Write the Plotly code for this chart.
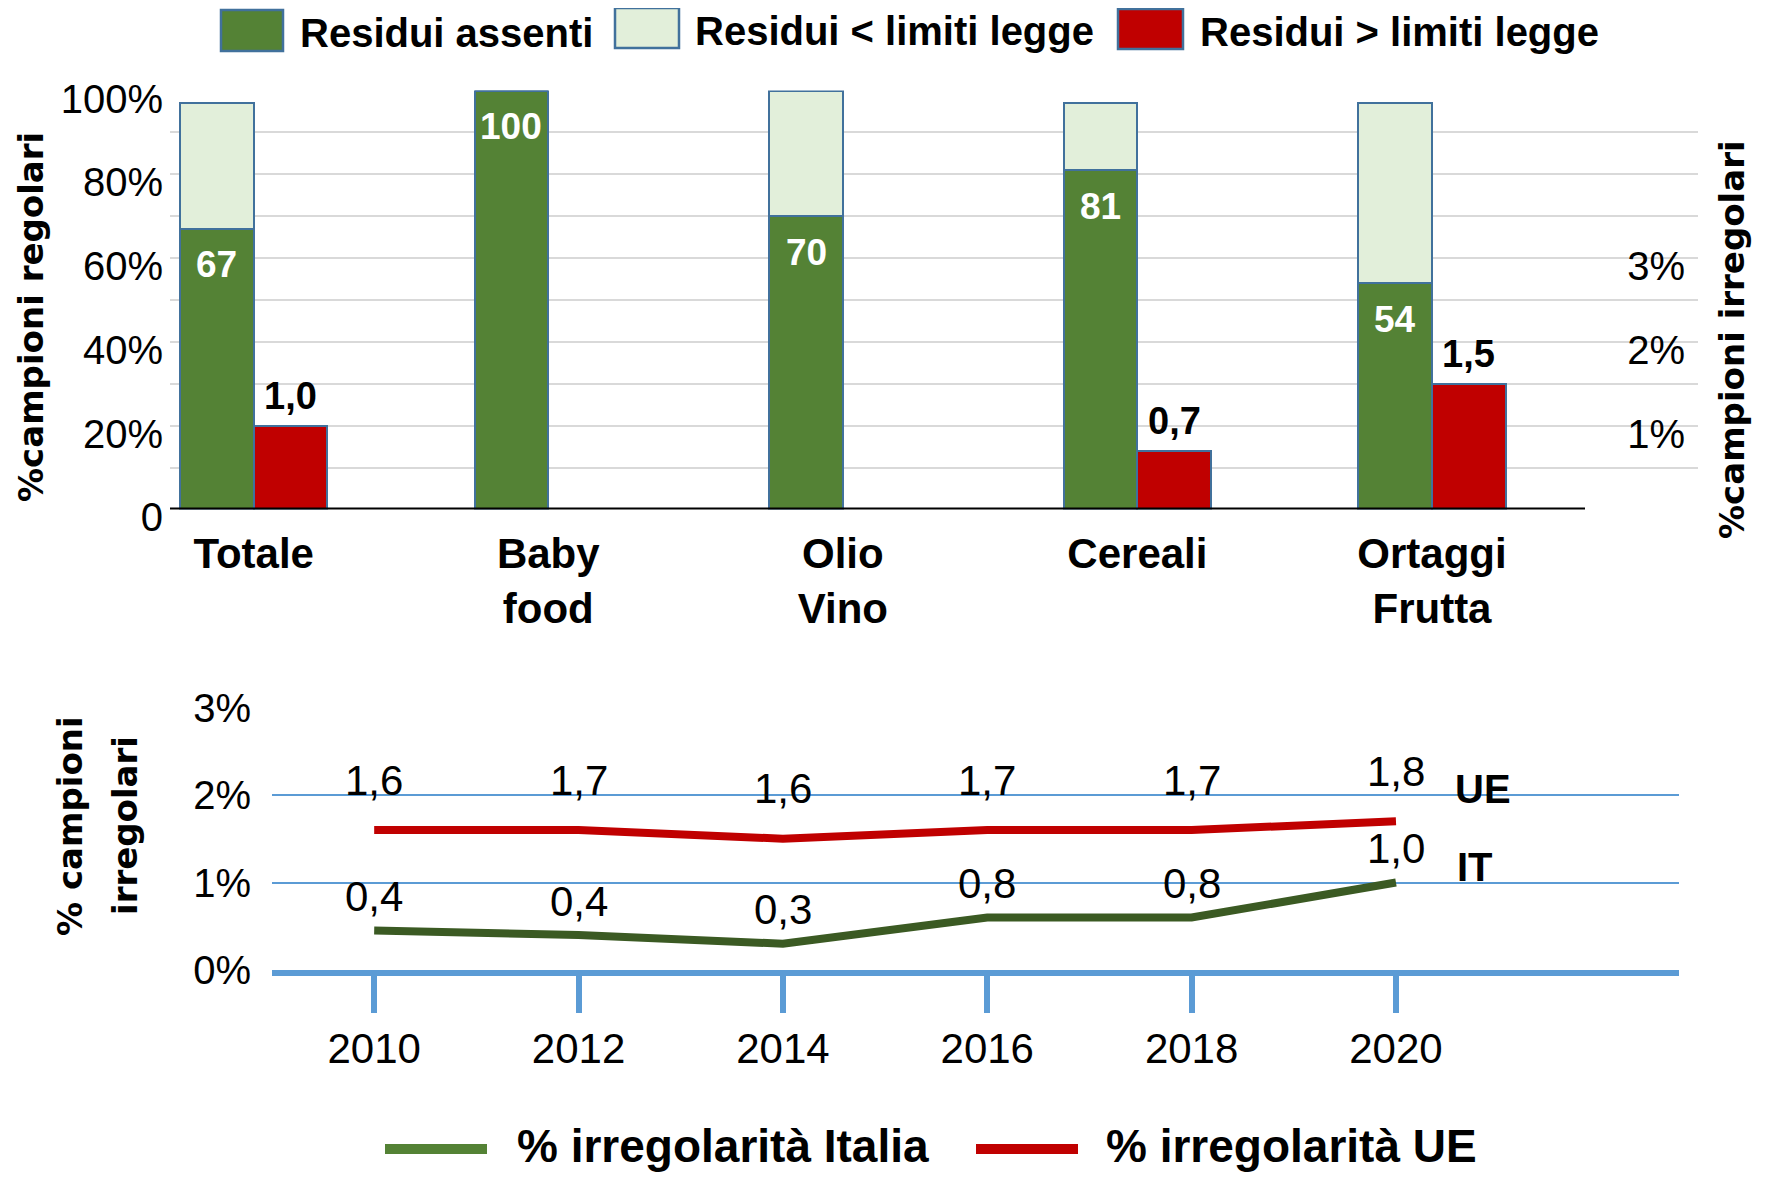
import plotly.graph_objects as go

# ---------------- data ----------------
categories = ["Totale", "Baby<br>food", "Olio<br>Vino", "Cereali", "Ortaggi<br>Frutta"]
residui_assenti = [67, 100, 70, 81, 54]          # % campioni regolari, nessun residuo
residui_sotto_limiti = [30, 0, 30, 16, 43]       # % campioni con residui < limiti
residui_sopra_limiti = [1.0, None, None, 0.7, 1.5]  # % campioni irregolari (asse destro)

years = [2010, 2012, 2014, 2016, 2018, 2020]
irr_italia = [0.45, 0.4, 0.3, 0.6, 0.6, 1.0]
irr_italia_labels = ["0,4", "0,4", "0,3", "0,8", "0,8", "1,0"]
irr_ue = [1.6, 1.6, 1.5, 1.6, 1.6, 1.7]
irr_ue_labels = ["1,6", "1,7", "1,6", "1,7", "1,7", "1,8"]

left_tickvals = [0, 20, 40, 60, 80, 100]
left_ticktext = ["0", "20%", "40%", "60%", "80%", "100%"]
right_tickvals = [0, 1, 2, 3]
right_ticktext = ["0", "1%", "2%", "3%"]
bottom_tickvals = [0, 1, 2, 3]
bottom_ticktext = ["0%", "1%", "2%", "3%"]

legend_top = ["Residui assenti", "Residui < limiti legge", "Residui > limiti legge"]
legend_bottom = ["% irregolarità Italia", "% irregolarità UE"]

# ---------------- style ----------------
PAGE_W, PAGE_H = 1775, 1177
OFF = 8                      # default body margin of the html page
W, H = PAGE_W - OFF, PAGE_H - OFF
GREEN = "#548235"
LIGHT = "#e2efda"
RED = "#c00000"
EDGE = "#41719c"
DKGREEN = "#3b5a23"
BLUE = "#5b9bd5"
FONT = "Liberation Sans, Arial, sans-serif"
TFONT = "DejaVu Sans, Verdana, sans-serif"

X_LEFT, X_RIGHT = 170, 1698
X_RANGE = [-0.284, 4.903]
BW = 0.25
unit_px = (X_RIGHT - X_LEFT) / (X_RANGE[1] - X_RANGE[0])
half_bar_px = BW / 2 * unit_px


def px(xp):
    return (xp - OFF) / W


def py(yp):
    return 1 - (yp - OFF) / H


fig = go.Figure()

fig.add_trace(go.Bar(
    x=categories, y=residui_assenti, name=legend_top[0], xaxis="x", yaxis="y",
    width=BW, offset=-BW,
    marker=dict(color=GREEN, line=dict(color=EDGE, width=2)),
    showlegend=False, hoverinfo="skip"))
fig.add_trace(go.Bar(
    x=categories, y=residui_sotto_limiti, name=legend_top[1], xaxis="x", yaxis="y",
    width=BW, offset=-BW,
    marker=dict(color=LIGHT, line=dict(color=EDGE, width=2)),
    showlegend=False, hoverinfo="skip"))
fig.add_trace(go.Bar(
    x=categories, y=residui_sopra_limiti, name=legend_top[2], xaxis="x", yaxis="y2",
    width=BW, offset=0,
    marker=dict(color=RED, line=dict(color=EDGE, width=2)),
    showlegend=False, hoverinfo="skip"))

fig.add_trace(go.Scatter(
    x=years, y=irr_ue, mode="lines", name=legend_bottom[1], xaxis="x2", yaxis="y3",
    line=dict(color=RED, width=8), showlegend=False, hoverinfo="skip"))
fig.add_trace(go.Scatter(
    x=years, y=irr_italia, mode="lines", name=legend_bottom[0], xaxis="x2", yaxis="y3",
    line=dict(color=DKGREEN, width=8), showlegend=False, hoverinfo="skip"))

annotations = []
# bar value labels
for c, v in zip(categories, residui_assenti):
    annotations.append(dict(x=c, y=v, xref="x", yref="y", text=str(v), showarrow=False,
                            xshift=-half_bar_px, yshift=-36, yanchor="middle",
                            font=dict(size=37, family=FONT, color="white", weight="bold")))
for c, v in zip(categories, residui_sopra_limiti):
    if v is None:
        continue
    annotations.append(dict(x=c, y=v, xref="x", yref="y2", text=f"{v:.1f}".replace(".", ","),
                            showarrow=False, xshift=half_bar_px, yshift=30, yanchor="middle",
                            font=dict(size=38, family=FONT, color="black", weight="bold")))

# line value labels
for xv, yv, t in zip(years, irr_ue, irr_ue_labels):
    annotations.append(dict(x=xv, y=yv, xref="x2", yref="y3", text=t, showarrow=False,
                            yshift=50, yanchor="middle",
                            font=dict(size=42, family=FONT, color="black")))
for xv, yv, t in zip(years, irr_italia, irr_italia_labels):
    annotations.append(dict(x=xv, y=yv, xref="x2", yref="y3", text=t, showarrow=False,
                            yshift=34, yanchor="middle",
                            font=dict(size=42, family=FONT, color="black")))
annotations.append(dict(x=2020.85, y=2.07, xref="x2", yref="y3", text="UE", showarrow=False,
                        yanchor="middle",
                        font=dict(size=40, family=FONT, color="black", weight="bold")))
annotations.append(dict(x=2020.77, y=1.18, xref="x2", yref="y3", text="IT", showarrow=False,
                        yanchor="middle",
                        font=dict(size=40, family=FONT, color="black", weight="bold")))

# axis titles
titles = [
    (31, 317, "%campioni regolari"),
    (1732, 340, "%campioni irregolari"),
    (70, 826, "% campioni"),
    (125, 826, "irregolari"),
]
for tx, ty, t in titles:
    annotations.append(dict(x=px(tx), y=py(ty), xref="paper", yref="paper", text=t,
                            textangle=-90, showarrow=False, xanchor="center", yanchor="middle",
                            font=dict(size=34, family=TFONT, color="black", weight="bold")))

shapes = []
# black baseline of the bar chart
shapes.append(dict(type="line", xref="paper", yref="y", x0=px(170), x1=px(1585), y0=0, y1=0,
                   line=dict(color="black", width=4)))

# top legend (custom boxes)
top_items = [
    (221, 283, 10, 51, GREEN, 298, 33, legend_top[0]),
    (615, 679, 8, 48, LIGHT, 693, 31, legend_top[1]),
    (1118, 1183, 9, 49, RED, 1198, 32, legend_top[2]),
]
for x0, x1, y0, y1, col, tx, ty, label in top_items:
    shapes.append(dict(type="rect", xref="paper", yref="paper", x0=px(x0), x1=px(x1),
                       y0=py(y1), y1=py(y0), fillcolor=col, line=dict(color=EDGE, width=2.5)))
    annotations.append(dict(x=px(tx), y=py(ty), xref="paper", yref="paper", text=label,
                            xanchor="left", yanchor="middle", showarrow=False,
                            font=dict(size=40, family=FONT, color="black", weight="bold")))

# bottom legend (custom line samples)
bot_items = [
    (385, 487, GREEN, 515, legend_bottom[0]),
    (976, 1078, RED, 1104, legend_bottom[1]),
]
for x0, x1, col, tx, label in bot_items:
    shapes.append(dict(type="line", xref="paper", yref="paper", x0=px(x0), x1=px(x1),
                       y0=py(1149), y1=py(1149), line=dict(color=col, width=10)))
    annotations.append(dict(x=px(tx), y=py(1146), xref="paper", yref="paper", text=label,
                            xanchor="left", yanchor="middle", showarrow=False,
                            font=dict(size=46, family=FONT, color="black", weight="bold")))

fig.update_layout(
    width=W, height=H,
    margin=dict(l=0, r=0, t=0, b=0, autoexpand=False),
    paper_bgcolor="white", plot_bgcolor="white",
    barmode="stack",
    font=dict(family=FONT, color="black"),
    xaxis=dict(domain=[px(X_LEFT), px(X_RIGHT)], anchor="y", type="category",
               range=X_RANGE, showgrid=False, showline=False, ticks="",
               tickfont=dict(size=42, family=FONT, color="black", weight="bold"),
               ticklabelstandoff=16, zeroline=False, automargin=False),
    yaxis=dict(domain=[py(509.4), py(90.6)], anchor="x", range=[0, 100],
               tickvals=left_tickvals, ticktext=left_ticktext,
               showgrid=True, gridcolor="#d9d9d9", gridwidth=1.5,
               minor=dict(tickvals=[10, 30, 50, 70, 90], showgrid=True,
                          gridcolor="#d9d9d9", gridwidth=1.5),
               zeroline=False, showline=False, ticks="",
               tickfont=dict(size=40, family=FONT, color="black"),
               ticklabelstandoff=6, ticklabelshift=8, automargin=False),
    yaxis2=dict(overlaying="y", anchor="x", side="right", range=[0, 5],
                tickvals=right_tickvals, ticktext=right_ticktext,
                showgrid=False, zeroline=False, showline=False, ticks="",
                ticklabelposition="inside",
                tickfont=dict(size=40, family=FONT, color="black"),
                ticklabelstandoff=10, ticklabelshift=8, automargin=False),
    xaxis2=dict(domain=[px(272), px(1679)], anchor="y3", range=[2009.0, 2022.77],
                tickvals=years, showgrid=False, zeroline=False,
                showline=True, linecolor=BLUE, linewidth=6,
                ticks="outside", ticklen=37, tickwidth=6, tickcolor=BLUE,
                tickfont=dict(size=42, family=FONT, color="black"),
                ticklabelstandoff=0, automargin=False),
    yaxis3=dict(domain=[py(970), py(707.5)], anchor="x2", range=[0, 3],
                tickvals=bottom_tickvals, ticktext=bottom_ticktext,
                showgrid=True, gridcolor=BLUE, gridwidth=2, zeroline=False,
                showline=False, ticks="",
                tickfont=dict(size=40, family=FONT, color="black"),
                ticklabelstandoff=20, automargin=False),
    shapes=shapes,
    annotations=annotations,
)

fig.write_html("out.html")
